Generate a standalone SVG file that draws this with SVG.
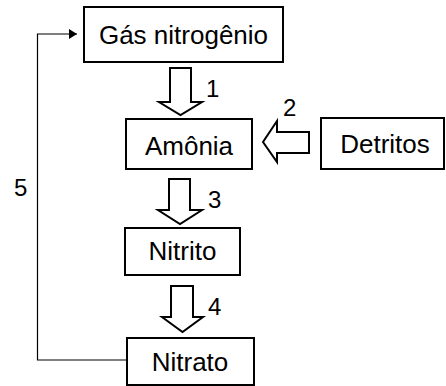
<svg xmlns="http://www.w3.org/2000/svg" width="446" height="386" viewBox="0 0 446 386">
<style>
.box{fill:#fff;stroke:#000;stroke-width:2}
.blk{fill:#fff;stroke:#000;stroke-width:2;stroke-linejoin:miter}
.lbl{font-family:"Liberation Sans",Arial,sans-serif;font-size:26px;fill:#000}
.num{font-family:"Liberation Sans",Arial,sans-serif;font-size:24px;fill:#000}
.ln{fill:none;stroke:#000;stroke-width:1.2}
</style>
<defs>
<marker id="ah" viewBox="0 0 8 10" refX="8" refY="5" markerWidth="8" markerHeight="10" markerUnits="userSpaceOnUse" orient="auto">
<path d="M0,0 L8,5 L0,10 Z" fill="#000"/>
</marker>
</defs>
<rect width="446" height="386" fill="#fff"/>
<g id="connectors">
<polyline class="ln" points="127,360 37.5,360 37.5,34 77,34" marker-end="url(#ah)"/>
<polygon class="blk" points="170,68 191,68 191,102 202,102 180.5,115 159,102 170,102"/>
<polygon class="blk" points="309,132 277,132 277,121 263,142 277,162 277,153 309,153"/>
<polygon class="blk" points="169,179 190,179 190,210 202,210 180,224 158,210 169,210"/>
<polygon class="blk" points="171,286 193,286 193,317 203,317 182.5,332 162,317 171,317"/>
<text class="num" x="206" y="97">1</text>
<text class="num" x="283" y="116">2</text>
<text class="num" x="208" y="208">3</text>
<text class="num" x="208" y="315">4</text>
<text class="num" x="14" y="196">5</text>
</g>
<g id="gas">
<rect class="box" x="84" y="7" width="199" height="55"/>
<text class="lbl" x="183.5" y="44" text-anchor="middle">Gás nitrogênio</text>
</g>
<g id="amonia">
<rect class="box" x="126" y="119" width="126" height="50"/>
<text class="lbl" x="189" y="155" text-anchor="middle">Amônia</text>
</g>
<g id="detritos">
<rect class="box" x="321" y="118" width="123" height="51"/>
<text class="lbl" x="385" y="153" text-anchor="middle">Detritos</text>
</g>
<g id="nitrito">
<rect class="box" x="125" y="228" width="115" height="47"/>
<text class="lbl" x="182.5" y="260" text-anchor="middle">Nitrito</text>
</g>
<g id="nitrato">
<rect class="box" x="127" y="338" width="127" height="47"/>
<text class="lbl" x="190" y="371" text-anchor="middle">Nitrato</text>
</g>
</svg>
